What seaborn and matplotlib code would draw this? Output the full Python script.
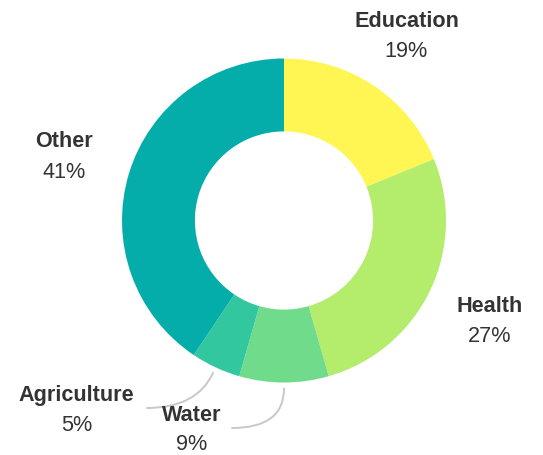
import numpy as np
import matplotlib
matplotlib.use("Agg")
import matplotlib.pyplot as plt
from matplotlib.path import Path
from matplotlib.patches import PathPatch
import seaborn as sns

# Share of spending by sector (percent)
sectors = ["Education", "Health", "Water", "Agriculture", "Other"]
shares = [19, 27, 9, 5, 41]
colors = ["#FFF653", "#B4EC6C", "#70DB8A", "#33C7A0", "#04ADA9"]

sns.set_theme(style="white")
plt.rcParams["font.family"] = ["Liberation Sans", "DejaVu Sans"]

W, H = 543, 455
fig = plt.figure(figsize=(W / 100, H / 100), dpi=100)
ax = fig.add_axes([0, 0, 1, 1])

# work in pixel-like units with y measured from the bottom
cx, cy = 284, H - 220.5
R = 162
ring = 0.45

wedges, _ = ax.pie(
    shares, colors=colors, startangle=90, counterclock=False,
    center=(cx, cy), radius=R,
    wedgeprops=dict(width=R * ring, linewidth=0),
)
ax.set_xlim(0, W)
ax.set_ylim(0, H)
ax.set_aspect("equal")
ax.axis("off")

txt_color = "#333333"
fs = 15.6

def label(name, pct, x, y_top, y_bot):
    ax.text(x, H - y_top, name, ha="center", va="baseline", fontsize=fs,
            fontweight="bold", color=txt_color)
    ax.text(x, H - y_bot, f"{pct}%", ha="center", va="baseline", fontsize=fs,
            color=txt_color)

# label anchors (x centre, baselines of name and value)
anchors = {
    "Education": (406.5, 26.7, 57.3),
    "Health": (490, 311.7, 341.7),
    "Other": (64, 146.7, 178.3),
    "Agriculture": (76.7, 400.7, 430.7),
    "Water": (191.7, 421, 450.5),
}
for name, pct in zip(sectors, shares):
    x, yt, yb = anchors[name]
    label(name, pct, x, yt, yb)

# curved leaders for the two narrow slices
leader_ends = {"Agriculture": (147, 408), "Water": (232, 428)}
for w, name in zip(wedges, sectors):
    if name not in leader_ends:
        continue
    mid = np.deg2rad((w.theta1 + w.theta2) / 2)
    dx, dy = np.cos(mid), np.sin(mid)
    r0 = R + 6
    sx, sy = cx + r0 * dx, cy + r0 * dy
    ex, ey = leader_ends[name]
    ey = H - ey
    t = (ey - sy) / dy
    ctrl = (sx + t * dx, ey)
    path = Path([(sx, sy), ctrl, (ex, ey)], [Path.MOVETO, Path.CURVE3, Path.CURVE3])
    ax.add_patch(PathPatch(path, fill=False, edgecolor="#C8C8C8", linewidth=1.4,
                           capstyle="round"))

fig.savefig("out.png", dpi=100)
